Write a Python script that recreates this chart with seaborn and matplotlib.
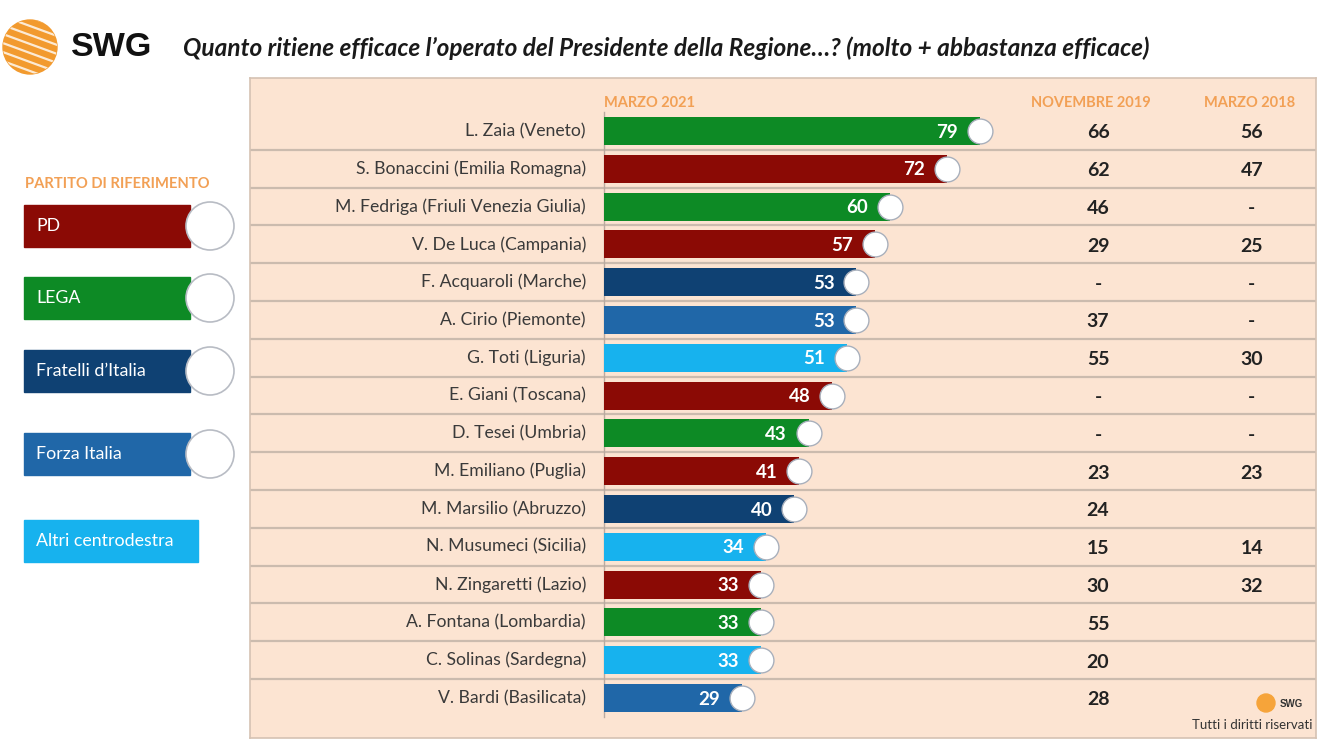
import numpy as np
import pandas as pd
import matplotlib
matplotlib.use("Agg")
import matplotlib.pyplot as plt
from matplotlib.patches import Rectangle, Circle
import seaborn as sns

# data
presidents = ['L. Zaia (Veneto)', 'S. Bonaccini (Emilia Romagna)', 'M. Fedriga (Friuli Venezia Giulia)',
              'V. De Luca (Campania)', 'F. Acquaroli (Marche)', 'A. Cirio (Piemonte)', 'G. Toti (Liguria)',
              'E. Giani (Toscana)', 'D. Tesei (Umbria)', 'M. Emiliano (Puglia)', 'M. Marsilio (Abruzzo)',
              'N. Musumeci (Sicilia)', 'N. Zingaretti (Lazio)', 'A. Fontana (Lombardia)',
              'C. Solinas (Sardegna)', 'V. Bardi (Basilicata)']
party = ['LEGA', 'PD', 'LEGA', 'PD', 'FdI', 'FI', 'Altri', 'PD', 'LEGA', 'PD', 'FdI',
         'Altri', 'PD', 'LEGA', 'Altri', 'FI']
marzo_2021 = [79, 72, 60, 57, 53, 53, 51, 48, 43, 41, 40, 34, 33, 33, 33, 29]
novembre_2019 = ['66', '62', '46', '29', '-', '37', '55', '-', '-', '23', '24', '15', '30', '55', '20', '28']
marzo_2018 = ['56', '47', '-', '25', '-', '-', '30', '-', '-', '23', '', '14', '32', '', '', '']

legend_parties = ['PD', 'LEGA', 'FdI', 'FI', 'Altri']
legend_labels = ['PD', 'LEGA', "Fratelli d\u2019Italia", 'Forza Italia', 'Altri centrodestra']

palette = {'PD': '#8b0a05', 'LEGA': '#0d8a25', 'FdI': '#0f4173',
           'FI': '#2067a8', 'Altri': '#17b2ee'}
peach = '#fce4d2'
orange = '#f2a055'

df = pd.DataFrame({'name': presidents, 'val': marzo_2021, 'party': party})

plt.rcParams['font.family'] = ['Lato', 'DejaVu Sans']
fig = plt.figure(figsize=(13.2, 7.42), dpi=100)
fig.patch.set_facecolor('white')

# main panel
ax = fig.add_axes([250 / 1320, 4 / 742, 1066 / 1320, 660 / 742])
ax.set_facecolor(peach)
sns.barplot(data=df, y='name', x='val', hue='party', palette=palette, dodge=False,
            orient='h', width=0.74, legend=False, ax=ax, saturation=1)
ax.set_xlim(-74.4, 149.6)
ax.set_ylim(16.06, -1.40)
ax.set_xticks([])
ax.set_yticks([])
ax.set_xlabel('')
ax.set_ylabel('')
for s in ax.spines.values():
    s.set_color('#d5c2b3')
    s.set_linewidth(1.2)

for i in range(len(presidents) - 1):
    ax.axhline(i + 0.5, color='#cbbbae', lw=1.6, zorder=0.5)
ax.plot([0, 0], [-0.5, 15.5], color='#b9aaa0', lw=1, zorder=0.6)

# party logos at bar ends
ax.scatter(marzo_2021, range(len(presidents)), s=320, facecolor='white',
           edgecolor='#a9b0bc', linewidth=1, zorder=4)

for i, (v, n, a, b) in enumerate(zip(marzo_2021, presidents, novembre_2019, marzo_2018)):
    ax.text(-3.8, i, n, ha='right', va='center', fontsize=12.7, color='#3a3a3a')
    ax.text(v - 4.6, i + 0.03, str(v), ha='right', va='center', fontsize=13.5,
            fontweight='bold', color='white', zorder=5)
    ax.text(103.8, i + 0.05, a, ha='center', va='center', fontsize=14, fontweight='bold', color='#222222')
    ax.text(136.1, i + 0.05, b, ha='center', va='center', fontsize=14, fontweight='bold', color='#222222')

ax.text(0, -0.74, 'MARZO 2021', ha='left', va='center', fontsize=10.5, fontweight='bold', color=orange)
ax.text(102.3, -0.74, 'NOVEMBRE 2019', ha='center', va='center', fontsize=10.5, fontweight='bold', color=orange)
ax.text(135.7, -0.74, 'MARZO 2018', ha='center', va='center', fontsize=10.5, fontweight='bold', color=orange)

# overlay axes in pixel coordinates for the decorations
bg = fig.add_axes([0, 0, 1, 1])
bg.set_xlim(0, 1320)
bg.set_ylim(742, 0)
bg.axis('off')
bg.set_zorder(3)

# SWG logo
logo = Circle((30, 47), 27, color='#f29a2e')
bg.add_patch(logo)
for k in range(-3, 4):
    ln, = bg.plot([0, 60], [47 + k * 9 - 14, 47 + k * 9 + 8], color='white', lw=1.6, alpha=0.8)
    ln.set_clip_path(logo)
bg.text(71, 48, 'SWG', fontsize=24.5, fontweight='bold', family='Liberation Sans',
        va='center', ha='left', color='#111111')
bg.text(183, 48, "Quanto ritiene efficace l\u2019operato del Presidente della Regione\u2026? (molto + abbastanza efficace)",
        fontsize=17.6, fontweight='bold', style='italic', va='center', ha='left', color='#1a1a1a')

# party legend
bg.text(25, 184, 'PARTITO DI RIFERIMENTO', fontsize=10.6, fontweight='bold', color=orange,
        va='center', ha='left')
box_y = [226, 298, 371, 454, 541]
for p, lab, yc in zip(legend_parties, legend_labels, box_y):
    w = 174 if p == 'Altri' else 166
    bg.add_patch(Rectangle((24, yc - 21), w, 42, color=palette[p]))
    bg.text(36, yc, lab, fontsize=12.8, color='white', va='center', ha='left')
    if p != 'Altri':
        bg.add_patch(Circle((210, yc), 24, facecolor='white', edgecolor='#b8bcc4', lw=1.2))

# bottom right credit
bg.add_patch(Circle((1266, 703), 9, color='#f6a43a'))
bg.text(1280, 704, 'SWG', fontsize=7, fontweight='bold', family='Liberation Sans',
        va='center', ha='left', color='#333333')
bg.text(1312, 725, 'Tutti i diritti riservati', fontsize=9.5, va='center', ha='right', color='#333333')

fig.savefig('out.png', dpi=100, facecolor='white')
